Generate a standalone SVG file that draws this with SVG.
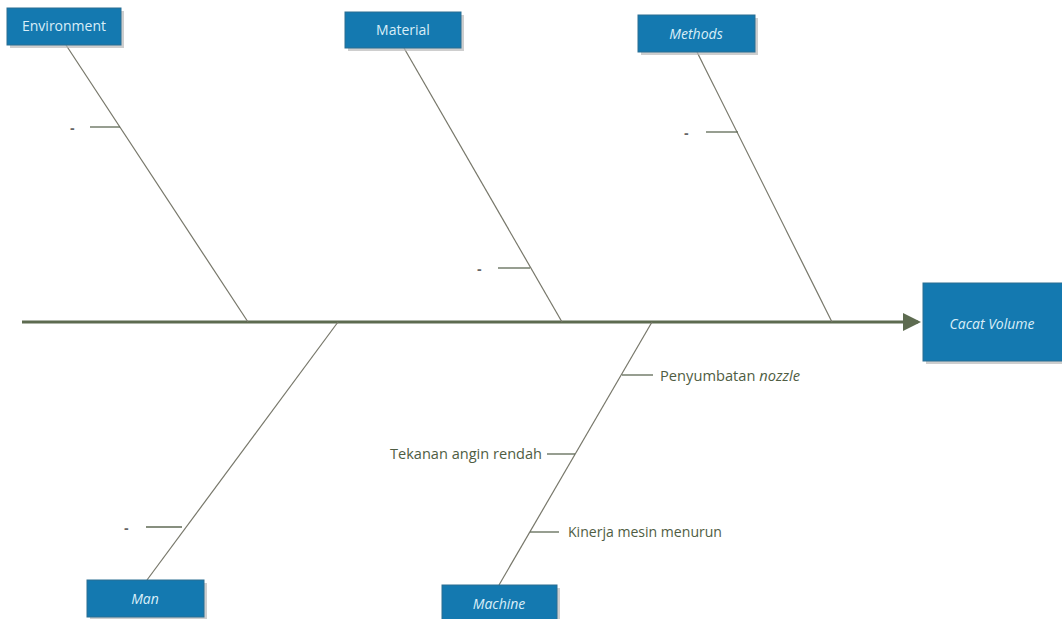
<svg xmlns="http://www.w3.org/2000/svg" width="1062" height="619" viewBox="0 0 1062 619">
  <style>
    .box { fill: #1479b0; stroke: #2a6e92; stroke-width: 1; }
    .shadow { fill: #b9b9b9; opacity: 0.7; }
    .btxt { font-family: "Open Sans", "Liberation Sans", sans-serif; font-size: 14px; fill: #d9eef8; text-anchor: middle; }
    .bone { stroke: #77776a; stroke-width: 1.2; fill: none; }
    .tick { stroke: #5f6a55; stroke-width: 1.3; }
    .lbl { font-family: "Open Sans", "Liberation Sans", sans-serif; font-size: 14px; fill: #4f5d43; }
    .dash { font-family: "Liberation Sans", sans-serif; font-size: 14px; font-weight: bold; fill: #666; }
  </style>
  <defs>
    <marker id="head" markerWidth="6" markerHeight="6" refX="5" refY="3" orient="auto" markerUnits="strokeWidth">
      <path d="M0,0 L6,3 L0,6 Z" fill="#5d6b50"/>
    </marker>
  </defs>
  <rect width="1062" height="619" fill="#ffffff"/>

  <!-- connectors: spine, bones and cause ticks -->
  <g id="connectors">
    <line x1="22" y1="322" x2="918" y2="322" stroke="#5d6b50" stroke-width="3" marker-end="url(#head)"/>
    <line class="bone" x1="66" y1="45" x2="248" y2="322"/>
    <line class="bone" x1="404" y1="48" x2="562" y2="322"/>
    <line class="bone" x1="697" y1="52" x2="832" y2="322"/>
    <line class="bone" x1="338" y1="322" x2="147" y2="580"/>
    <line class="bone" x1="652" y1="322" x2="499" y2="585"/>
    <line class="tick" x1="90" y1="127" x2="120" y2="127"/>
    <line class="tick" x1="498" y1="268" x2="530" y2="268"/>
    <line class="tick" x1="706" y1="132" x2="738" y2="132"/>
    <line class="tick" x1="146" y1="527" x2="182" y2="527"/>
    <line class="tick" x1="622" y1="375" x2="653" y2="375"/>
    <line class="tick" x1="547" y1="454" x2="575" y2="454"/>
    <line class="tick" x1="530" y1="532" x2="559" y2="532"/>
  </g>

  <!-- cause labels -->
  <g id="labels">
    <text class="dash" x="70" y="133">-</text>
    <text class="dash" x="477" y="274">-</text>
    <text class="dash" x="684" y="138">-</text>
    <text class="dash" x="124" y="533">-</text>
    <text class="lbl" x="660" y="381" textLength="140" lengthAdjust="spacingAndGlyphs">Penyumbatan <tspan font-style="italic">nozzle</tspan></text>
    <text class="lbl" x="390" y="459" textLength="152" lengthAdjust="spacingAndGlyphs">Tekanan angin rendah</text>
    <text class="lbl" x="568" y="537" textLength="154" lengthAdjust="spacingAndGlyphs">Kinerja mesin menurun</text>
  </g>

  <g id="environment">
    <rect class="shadow" x="10" y="11" width="114" height="37"/>
    <rect class="box" x="7" y="8" width="114" height="37"/>
    <text class="btxt" x="64" y="31">Environment</text>
  </g>
  <g id="material">
    <rect class="shadow" x="348" y="15" width="116" height="36"/>
    <rect class="box" x="345" y="12" width="116" height="36"/>
    <text class="btxt" x="403" y="35">Material</text>
  </g>
  <g id="methods">
    <rect class="shadow" x="641" y="18" width="117" height="37"/>
    <rect class="box" x="638" y="15" width="117" height="37"/>
    <text class="btxt" x="696" y="39" font-style="italic">Methods</text>
  </g>
  <g id="cacat-volume">
    <rect class="shadow" x="926" y="286" width="140" height="78"/>
    <rect class="box" x="923" y="283" width="142" height="78"/>
    <text class="btxt" x="992" y="329" font-style="italic">Cacat Volume</text>
  </g>
  <g id="man">
    <rect class="shadow" x="90" y="583" width="117" height="37"/>
    <rect class="box" x="87" y="580" width="117" height="37"/>
    <text class="btxt" x="145" y="604" font-style="italic">Man</text>
  </g>
  <g id="machine">
    <rect class="shadow" x="445" y="588" width="115" height="36"/>
    <rect class="box" x="442" y="585" width="115" height="36"/>
    <text class="btxt" x="499" y="609" font-style="italic">Machine</text>
  </g>
</svg>
